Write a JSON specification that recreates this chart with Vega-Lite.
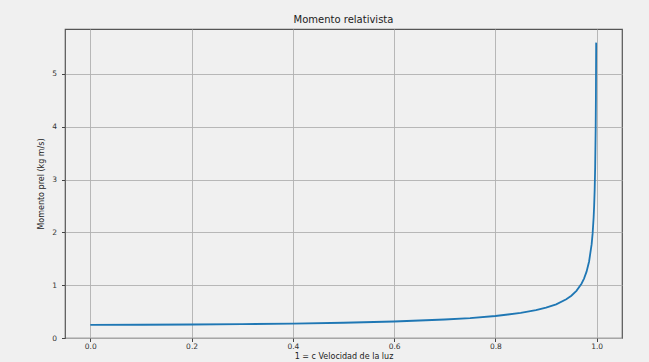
{
  "$schema": "https://vega.github.io/schema/vega-lite/v6.json",
  "width": 557,
  "height": 309,
  "autosize": {"type": "none"},
  "padding": {"left": 65, "top": 29, "right": 27, "bottom": 24},
  "background": "#f0f0f0",
  "title": {"text": "Momento relativista", "font": "DejaVu Sans", "fontSize": 10, "fontWeight": "normal", "color": "#222", "offset": 4},
  "config": {
    "view": {"stroke": "#555", "strokeWidth": 1.2, "fill": "#f0f0f0"},
    "axis": {
      "labelFont": "DejaVu Sans", "labelFontSize": 7.5, "labelColor": "#333",
      "titleFont": "DejaVu Sans", "titleFontWeight": "normal", "titleColor": "#222",
      "gridColor": "#b0b0b0", "gridWidth": 0.9, "gridOpacity": 1,
      "tickColor": "#444", "tickSize": 3.5, "domain": false
    }
  },
  "data": {"values": [
    {"v": 0.0, "p": 0.25},
    {"v": 0.1, "p": 0.2513},
    {"v": 0.2, "p": 0.2552},
    {"v": 0.3, "p": 0.2621},
    {"v": 0.4, "p": 0.2728},
    {"v": 0.5, "p": 0.2887},
    {"v": 0.6, "p": 0.3125},
    {"v": 0.7, "p": 0.3501},
    {"v": 0.75, "p": 0.378},
    {"v": 0.8, "p": 0.4167},
    {"v": 0.85, "p": 0.4746},
    {"v": 0.88, "p": 0.5263},
    {"v": 0.9, "p": 0.5735},
    {"v": 0.92, "p": 0.6379},
    {"v": 0.94, "p": 0.7328},
    {"v": 0.95, "p": 0.8006},
    {"v": 0.96, "p": 0.8929},
    {"v": 0.97, "p": 1.0284},
    {"v": 0.975, "p": 1.1251},
    {"v": 0.98, "p": 1.2563},
    {"v": 0.985, "p": 1.4488},
    {"v": 0.99, "p": 1.7722},
    {"v": 0.992, "p": 1.9804},
    {"v": 0.994, "p": 2.2856},
    {"v": 0.995, "p": 2.5031},
    {"v": 0.996, "p": 2.7979},
    {"v": 0.997, "p": 3.23},
    {"v": 0.998, "p": 3.955},
    {"v": 0.9985, "p": 4.566},
    {"v": 0.999, "p": 5.592}
  ]},
  "mark": {"type": "line", "color": "#1f77b4", "strokeWidth": 1.8, "clip": true},
  "encoding": {
    "x": {
      "field": "v", "type": "quantitative",
      "scale": {"domain": [-0.05, 1.05], "nice": false, "zero": false},
      "axis": {"values": [0, 0.2, 0.4, 0.6, 0.8, 1.0], "format": ".1f", "title": "1 = c Velocidad de la luz", "titleFontSize": 8, "titleY": 20, "titleBaseline": "alphabetic", "labelPadding": 1}
    },
    "y": {
      "field": "p", "type": "quantitative",
      "scale": {"domain": [0, 5.85], "nice": false},
      "axis": {"values": [0, 1, 2, 3, 4, 5], "title": "Momento prel (kg m/s)", "titleFontSize": 8, "titlePadding": 6, "labelPadding": 5}
    }
  }
}
